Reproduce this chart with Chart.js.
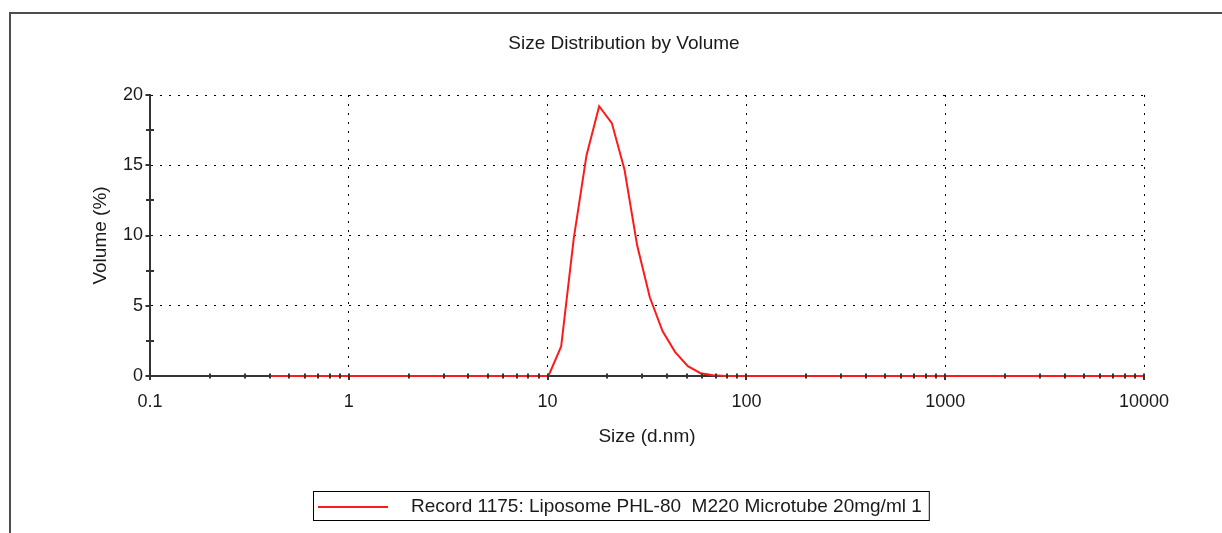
<!DOCTYPE html>
<html>
<head>
<meta charset="utf-8">
<title>Size Distribution by Volume</title>
<script src="https://cdn.jsdelivr.net/npm/chart.js@4"></script>
<style>
  body { margin: 0; background: #fff; }
  #wrap { position: relative; width: 1222px; height: 533px; overflow: hidden; }
  #frame { position: absolute; left: 9px; top: 12px; right: -4px; bottom: -4px;
           border-top: 2px solid #4d4d4d; border-left: 2px solid #4d4d4d; pointer-events: none; }
</style>
</head>
<body>
<div id="wrap">
  <canvas id="dist" width="1222" height="533"></canvas>
  <div id="frame"></div>
</div>
<script>
// size bins (d.nm) of the instrument, 0.4 .. 10000
var sizes = [0.4000, 0.4632, 0.5365, 0.6213, 0.7195, 0.8332, 0.9649, 1.117, 1.294, 1.499,
  1.736, 2.010, 2.328, 2.696, 3.122, 3.615, 4.187, 4.849, 5.615, 6.503,
  7.531, 8.721, 10.10, 11.70, 13.54, 15.69, 18.17, 21.04, 24.36, 28.21,
  32.67, 37.84, 43.82, 50.75, 58.77, 68.06, 78.82, 91.28, 105.7, 122.4,
  141.8, 164.2, 190.1, 220.2, 255.0, 295.3, 342.0, 396.1, 458.7, 531.2,
  615.1, 712.4, 825.0, 955.4, 1106, 1281, 1484, 1718, 1990, 2305,
  2669, 3091, 3580, 4145, 4801, 5560, 6439, 7456, 8635, 10000];

// volume (%) per bin
var volume = [0, 0, 0, 0, 0, 0, 0, 0, 0, 0,
  0, 0, 0, 0, 0, 0, 0, 0, 0, 0,
  0, 0, 0, 2.1, 9.8, 15.7, 19.2, 18.0, 14.7, 9.3,
  5.6, 3.2, 1.7, 0.7, 0.2, 0.05, 0, 0, 0, 0,
  0, 0, 0, 0, 0, 0, 0, 0, 0, 0,
  0, 0, 0, 0, 0, 0, 0, 0, 0, 0,
  0, 0, 0, 0, 0, 0, 0, 0, 0, 0];

var xTicks = [0.1, 1, 10, 100, 1000, 10000];
var yTicks = [0, 5, 10, 15, 20];
var chartTitle = 'Size Distribution by Volume';
var seriesLabel = 'Record 1175: Liposome PHL-80  M220 Microtube 20mg/ml 1';

var fontFamily = '"Liberation Sans", Arial, sans-serif';
var axisColor = '#333';
Chart.defaults.font.family = fontFamily;
Chart.defaults.font.size = 18;
Chart.defaults.color = '#1a1a1a';

// small marks crossing the axes, drawn on top of the curve
var tickMarks = {
  id: 'tickMarks',
  afterDatasetsDraw: function(chart) {
    var ctx = chart.ctx;
    var xs = chart.scales.x, ys = chart.scales.y;
    var bottom = chart.chartArea.bottom, left = chart.chartArea.left;
    ctx.save();
    ctx.strokeStyle = axisColor;
    ctx.lineWidth = 2;
    ctx.beginPath();
    for (var d = 0; d < xTicks.length; d++) {
      var px = Math.round(xs.getPixelForValue(xTicks[d]));
      ctx.moveTo(px, bottom - 2.5);
      ctx.lineTo(px, bottom + 4);
      if (d == xTicks.length - 1) break;
      for (var k = 2; k < 10; k++) {
        px = Math.round(xs.getPixelForValue(xTicks[d] * k));
        ctx.moveTo(px, bottom - 2.5);
        ctx.lineTo(px, bottom + 2.5);
      }
    }
    for (var i = 0; i < yTicks.length; i++) {
      var py = Math.round(ys.getPixelForValue(yTicks[i]));
      ctx.moveTo(left - 4.5, py);
      ctx.lineTo(left, py);
      if (i == yTicks.length - 1) break;
      py = Math.round(ys.getPixelForValue((yTicks[i] + yTicks[i + 1]) / 2));
      ctx.moveTo(left - 4, py);
      ctx.lineTo(left + 4, py);
    }
    ctx.stroke();
    ctx.restore();
  }
};

// title on top and the boxed legend underneath
var frameText = {
  id: 'frameText',
  afterDraw: function(chart) {
    var ctx = chart.ctx;
    var ds = chart.data.datasets[0];
    ctx.save();
    ctx.font = '19px ' + fontFamily;
    ctx.fillStyle = '#1a1a1a';
    ctx.textBaseline = 'middle';
    ctx.textAlign = 'center';
    ctx.fillText(chartTitle, 624, 44);

    ctx.textAlign = 'left';
    var tw = ctx.measureText(ds.label).width;
    ctx.strokeStyle = '#000';
    ctx.lineWidth = 1;
    ctx.strokeRect(313.5, 491.5, 411 - 313 + tw + 7, 29);
    ctx.strokeStyle = ds.borderColor;
    ctx.lineWidth = 2;
    ctx.beginPath();
    ctx.moveTo(318, 507);
    ctx.lineTo(388, 507);
    ctx.stroke();
    ctx.fillText(ds.label, 411, 507);
    ctx.restore();
  }
};

function gridColor(skip) {
  return function(c) {
    return c.tick && c.tick.value === skip ? 'rgba(0,0,0,0)' : '#000';
  };
}

new Chart(document.getElementById('dist'), {
  type: 'line',
  data: {
    datasets: [{
      label: seriesLabel,
      data: sizes.map(function(s, i) { return {x: s, y: volume[i]}; }),
      borderColor: '#ff1a1a',
      borderWidth: 2,
      pointRadius: 0,
      tension: 0,
      fill: false,
      clip: 4
    }]
  },
  options: {
    responsive: false,
    animation: false,
    layout: {padding: {top: 95, right: 78, bottom: 77, left: 0}},
    plugins: {
      legend: {display: false},
      title: {display: false},
      tooltip: {enabled: false}
    },
    scales: {
      x: {
        type: 'logarithmic',
        min: 0.1,
        max: 10000,
        afterBuildTicks: function(s) { s.ticks = xTicks.map(function(v) { return {value: v}; }); },
        afterFit: function(s) { s.height = 80; },
        ticks: {padding: 15, maxRotation: 0, autoSkip: false, callback: function(v) { return String(v); }},
        grid: {drawTicks: false, color: gridColor(0.1)},
        border: {color: axisColor, width: 2, dash: [2, 7]},
        title: {display: true, text: 'Size (d.nm)', font: {size: 19}, padding: {top: 0, bottom: 8}}
      },
      y: {
        min: 0,
        max: 20,
        afterBuildTicks: function(s) { s.ticks = yTicks.map(function(v) { return {value: v}; }); },
        afterFit: function(s) { s.width = 150; },
        ticks: {padding: 7},
        grid: {drawTicks: false, color: gridColor(0)},
        border: {color: axisColor, width: 2, dash: [2, 7]},
        title: {display: true, text: 'Volume (%)', font: {size: 19}, padding: {top: 89, bottom: 0}}
      }
    }
  },
  plugins: [tickMarks, frameText]
});
</script>
</body>
</html>
